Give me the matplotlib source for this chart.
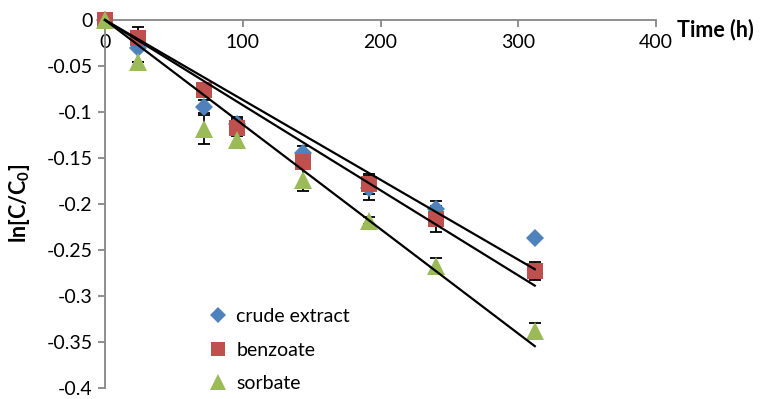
import matplotlib
matplotlib.use('Agg')
import matplotlib.pyplot as plt
import numpy as np

# sampling times (h) and mean ln(C/C0) for each preservative
hours = [0, 24, 72, 96, 144, 192, 240, 312]
crude = [0, -0.030, -0.095, -0.113, -0.145, -0.183, -0.205, -0.237]
benzoate = [0, -0.020, -0.076, -0.117, -0.154, -0.178, -0.216, -0.273]
sorbate = [0, -0.046, -0.118, -0.130, -0.174, -0.218, -0.267, -0.338]

# standard deviations
crude_err = [0, 0, 0.008, 0.008, 0.008, 0.013, 0.008, 0]
benzoate_err = [0, 0.012, 0.008, 0.009, 0.008, 0.011, 0.014, 0.0095]
sorbate_err = [0, 0, 0.017, 0.005, 0.012, 0.004, 0.008, 0.009]

labels = ['crude extract', 'benzoate', 'sorbate']
yticks = [0, -0.05, -0.1, -0.15, -0.2, -0.25, -0.3, -0.35, -0.4]
xticks = [0, 100, 200, 300, 400]

plt.rcParams['font.family'] = ['Lato', 'DejaVu Sans']
plt.rcParams['axes.unicode_minus'] = False
plt.rcParams['mathtext.fontset'] = 'custom'
plt.rcParams['mathtext.rm'] = 'Lato'
plt.rcParams['mathtext.bf'] = 'Lato:bold'

fs = 14
fs_bold = 15.5
grey = '#868686'

fig = plt.figure(figsize=(7.63, 3.99), dpi=100)
ax = fig.add_axes([0.1376, 0.0276, 0.7222, 0.9223])

series = [
    (crude, crude_err, 'D', 9.0, '#4F81BD'),
    (benzoate, benzoate_err, 's', 12.0, '#C0504D'),
    (sorbate, sorbate_err, '^', 13.0, '#9BBB59'),
]

t = np.array(hours, dtype=float)
for i, (vals, err, mk, ms, col) in enumerate(series):
    ax.errorbar(hours, vals, yerr=err, fmt='none', ecolor='black',
                elinewidth=1.3, capsize=4, capthick=1.3, zorder=1.5)
    ax.plot(hours, vals, linestyle='none', marker=mk, markersize=ms,
            color=col, markeredgewidth=0, label=labels[i], zorder=2 + i,
            clip_on=False)

# linear trend lines forced through the origin
for vals, err, mk, ms, col in series:
    y = np.array(vals)
    k = np.sum(t * y) / np.sum(t * t)
    ax.plot([0, t.max()], [0, k * t.max()], color='black', linewidth=1.6,
            zorder=10, clip_on=False)

ax.set_xlim(0, 400)
ax.set_ylim(-0.4, 0)
ax.set_xticks(xticks)
ax.set_yticks(yticks)
ax.set_xticklabels([str(v) for v in xticks])
ax.set_yticklabels(['%g' % v for v in yticks])

ax.spines['top'].set_visible(False)
ax.spines['right'].set_visible(False)
ax.spines['bottom'].set_position(('data', 0))
for s in ('left', 'bottom'):
    ax.spines[s].set_color(grey)
    ax.spines[s].set_linewidth(1.3)
ax.tick_params(axis='both', colors=grey, labelcolor='black', labelsize=fs,
               direction='out', length=5, width=1.3)
ax.tick_params(axis='x', pad=5)
ax.tick_params(axis='y', pad=4)

fig.text(677 / 763, 1 - 30 / 399, 'Time (h)', fontsize=fs_bold,
         fontweight='bold', ha='left', va='center')
fig.text(20 / 763, 1 - 203 / 399, r'ln[C/C$_\mathbf{0}$]', fontsize=fs_bold,
         fontweight='bold', rotation=90, ha='center', va='center')

ax.legend(loc='upper left', bbox_to_anchor=(208 / 763, 1 - 308 / 399),
          bbox_transform=fig.transFigure, frameon=False, fontsize=fs,
          numpoints=1, handlelength=1.0, handletextpad=0.45,
          labelspacing=0.85, borderpad=0, borderaxespad=0, markerscale=0.85)

fig.savefig('out.png', dpi=100)
